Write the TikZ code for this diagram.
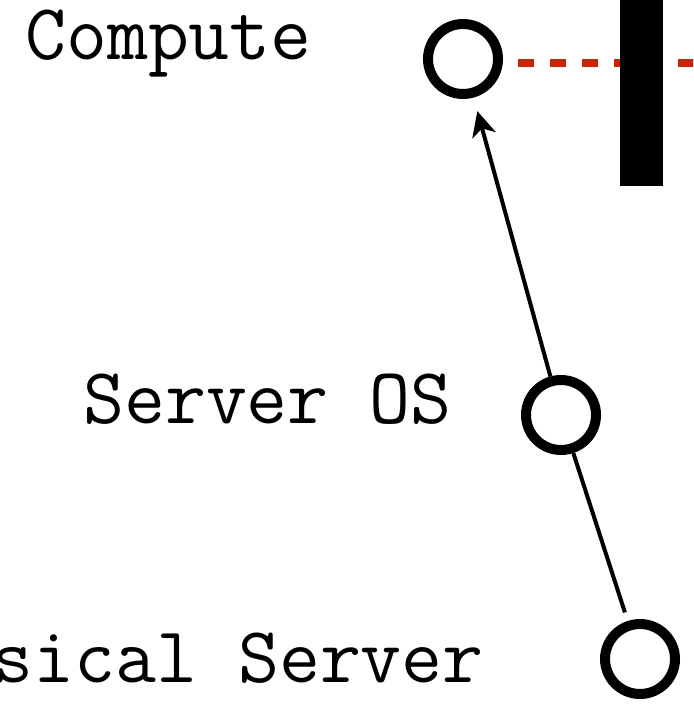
\documentclass[tikz,border=0pt]{standalone}
\usepackage{fontspec}
\usetikzlibrary{arrows.meta}
\definecolor{evored}{HTML}{C82506}
\tikzset{
  comp/.style={circle, draw=black, line width=10pt, fill=white, minimum size=70pt, inner sep=0pt},
  lbl/.style={font=\ttfamily\fontsize{79.5}{92}\selectfont, inner sep=0pt, text=black},
  dep/.style={draw=black, line width=4pt},
  evo/.style={draw=evored, line width=8pt, dash pattern=on 16pt off 16pt},
  inertia/.style={fill=black}
}
\begin{document}
\begin{tikzpicture}[x=1pt,y=-1pt]
\clip (0,0) rectangle (693,708);
\fill[white] (0,0) rectangle (693,708);
% evolution line
\coordinate (evostart) at (518,63);
\coordinate (evoend) at (710,63);
\draw[evo] (evostart) -- (evoend);
% inertia bar
\fill[inertia] (620,-5) rectangle (663,186);
% components
\node[comp] (compute) at (463,59) {};
\node[comp] (serveros) at (561,415) {};
\node[comp] (physical) at (640,659) {};
% dependencies
\draw[dep, -{Stealth[length=25pt,width=24pt,inset=7pt]}, shorten >=14pt] (serveros) -- (compute);
\draw[dep, shorten >=9pt] (serveros) -- (physical);
% labels
\node[lbl, anchor=base west] (lcompute) at (25,60) {Compute};
\node[lbl, anchor=base west] (lserveros) at (83,423) {Server OS};
\node[lbl, anchor=base east] (lphysical) at (484,682) {Physical Server};
\end{tikzpicture}
\end{document}
